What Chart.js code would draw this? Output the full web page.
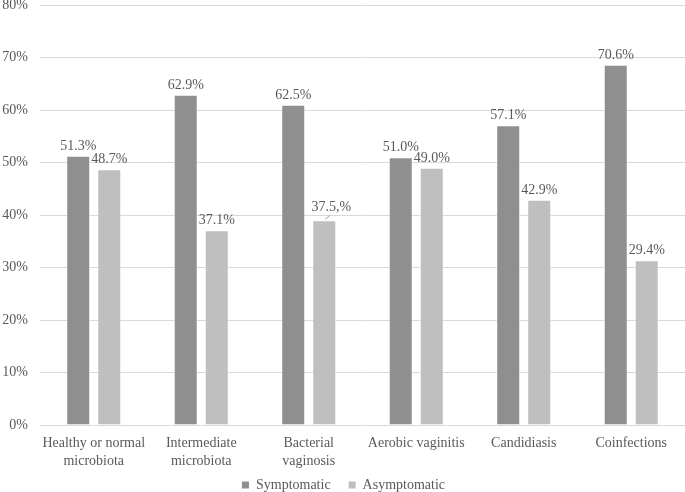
<!DOCTYPE html>
<html lang="en">
<head>
    <meta charset="UTF-8">
    <title>Symptomatic vs Asymptomatic by microbiota</title>
    <script src="https://cdn.jsdelivr.net/npm/chart.js"></script>
    <style>
        html, body {
            margin: 0;
            padding: 0;
            background: #ffffff;
        }
        .wrap {
            width: 685px;
            height: 492px;
        }
    </style>
</head>
<body>
    <div class="wrap">
        <canvas id="barChart"></canvas>
    </div>

    <script>
        const categories = [
            ['Healthy or normal', 'microbiota'],
            ['Intermediate', 'microbiota'],
            ['Bacterial', 'vaginosis'],
            ['Aerobic vaginitis'],
            ['Candidiasis'],
            ['Coinfections']
        ];
        // bar heights as drawn in the figure
        const symptomatic = [51.3, 62.9, 61.0, 51.0, 57.1, 68.6];
        const asymptomatic = [48.7, 37.1, 39.0, 49.0, 42.9, 31.4];
        // printed labels (some differ from bar heights in the original)
        const symptomaticLabels = ['51.3%', '62.9%', '62.5%', '51.0%', '57.1%', '70.6%'];
        const asymptomaticLabels = ['48.7%', '37.1%', '37.5,%', '49.0%', '42.9%', '29.4%'];
        const yTicks = [0, 10, 20, 30, 40, 50, 60, 70, 80];

        const textColor = '#595959';
        const fontFamily = '"Liberation Serif", "Times New Roman", serif';

        // value labels above the bars
        const barLabels = {
            id: 'barLabels',
            afterDatasetsDraw(chart) {
                const ctx = chart.ctx;
                const texts = [symptomaticLabels, asymptomaticLabels];
                ctx.save();
                ctx.font = '14px ' + fontFamily;
                ctx.fillStyle = textColor;
                ctx.textAlign = 'center';
                ctx.textBaseline = 'alphabetic';
                chart.data.datasets.forEach((ds, di) => {
                    const meta = chart.getDatasetMeta(di);
                    meta.data.forEach((bar, i) => {
                        let x = bar.x;
                        let y = bar.y - 6;
                        // the 37.5,% label was nudged off its bar, with a leader line
                        if (di === 1 && i === 2) {
                            ctx.strokeStyle = '#a6a6a6';
                            ctx.lineWidth = 1;
                            ctx.beginPath();
                            ctx.moveTo(bar.x + 1, bar.y - 1);
                            ctx.lineTo(bar.x + 6, bar.y - 5);
                            ctx.stroke();
                            x += 7;
                            y -= 3;
                        }
                        ctx.fillText(texts[di][i], x, y);
                    });
                });
                ctx.restore();
            }
        };

        // category names under the axis, placed from the x scale
        const categoryLabels = {
            id: 'categoryLabels',
            afterDraw(chart) {
                const ctx = chart.ctx;
                const xScale = chart.scales.x;
                const top = chart.chartArea.bottom;
                ctx.save();
                ctx.font = '14px ' + fontFamily;
                ctx.fillStyle = textColor;
                ctx.textAlign = 'center';
                ctx.textBaseline = 'middle';
                categories.forEach((lines, i) => {
                    const x = xScale.getPixelForValue(i);
                    lines.forEach((line, j) => {
                        ctx.fillText(line, x, top + 18 + j * 18);
                    });
                });
                ctx.restore();
            }
        };

        const ctx = document.getElementById('barChart').getContext('2d');
        new Chart(ctx, {
            type: 'bar',
            data: {
                labels: categories.map(c => c.join(' ')),
                datasets: [{
                    label: 'Symptomatic',
                    data: symptomatic,
                    backgroundColor: '#8f8f8f',
                    borderColor: 'rgba(255, 255, 255, 0.45)',
                    borderWidth: 1,
                    categoryPercentage: 0.577,
                    barPercentage: 0.774
                },
                {
                    label: 'Asymptomatic',
                    data: asymptomatic,
                    backgroundColor: '#bfbfbf',
                    borderColor: 'rgba(255, 255, 255, 0.45)',
                    borderWidth: 1,
                    categoryPercentage: 0.577,
                    barPercentage: 0.774
                }]
            },
            options: {
                responsive: true,
                maintainAspectRatio: false,
                animation: false,
                layout: {
                    padding: { left: 2, right: 0, top: 5, bottom: -10 }
                },
                plugins: {
                    legend: {
                        position: 'bottom',
                        labels: {
                            boxWidth: 7,
                            boxHeight: 7,
                            color: textColor,
                            padding: 18,
                            font: { family: fontFamily, size: 14 },
                            generateLabels(chart) {
                                return chart.data.datasets.map((ds, i) => ({
                                    text: ds.label,
                                    fillStyle: ds.backgroundColor,
                                    strokeStyle: ds.backgroundColor,
                                    lineWidth: 0,
                                    fontColor: textColor,
                                    datasetIndex: i
                                }));
                            }
                        }
                    },
                    tooltip: { enabled: false }
                },
                scales: {
                    x: {
                        grid: { display: false },
                        border: { display: false },
                        ticks: { display: false },
                        afterFit(scale) {
                            scale.height = 35;
                        }
                    },
                    y: {
                        min: 0,
                        max: 80,
                        afterBuildTicks(scale) {
                            scale.ticks = yTicks.map(v => ({ value: v }));
                        },
                        afterFit(scale) {
                            scale.paddingTop = 0;
                            scale.paddingBottom = 0;
                            scale.width = 38;
                        },
                        grid: {
                            color: '#d9d9d9',
                            drawTicks: false
                        },
                        border: { display: false },
                        ticks: {
                            color: textColor,
                            padding: 12,
                            font: { family: fontFamily, size: 14 },
                            callback: v => v + '%'
                        }
                    }
                }
            },
            plugins: [barLabels, categoryLabels]
        });
    </script>
</body>
</html>
